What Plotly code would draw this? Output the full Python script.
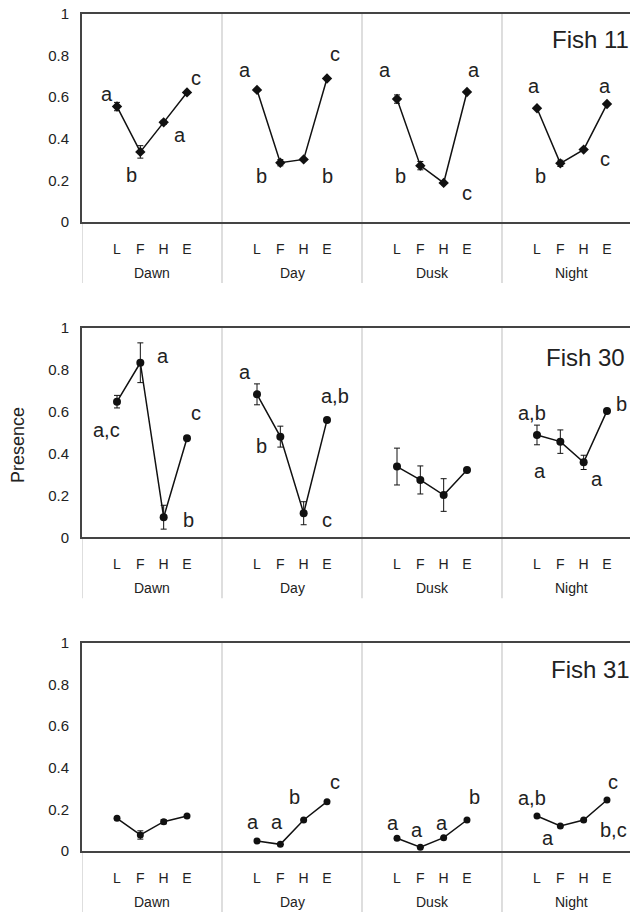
import plotly.graph_objects as go

# ---------------- data ----------------
periods = ["Dawn", "Day", "Dusk", "Night"]
zones = ["L", "F", "H", "E"]
fish_names = ["Fish 11", "Fish 30", "Fish 31"]

# presence values per fish, per period (L, F, H, E)
fish11_vals = [[0.555, 0.337, 0.479, 0.623],
               [0.635, 0.285, 0.301, 0.690],
               [0.591, 0.271, 0.188, 0.625],
               [0.547, 0.282, 0.348, 0.567]]
fish11_err = [[0.02, 0.03, 0.01, 0.0],
              [0.0, 0.015, 0.0, 0.0],
              [0.02, 0.02, 0.0, 0.0],
              [0.0, 0.015, 0.0, 0.0]]

fish30_vals = [[0.648, 0.834, 0.096, 0.473],
               [0.683, 0.481, 0.115, 0.560],
               [0.338, 0.274, 0.202, 0.322],
               [0.489, 0.457, 0.358, 0.604]]
fish30_err = [[0.03, 0.095, 0.057, 0.0],
              [0.05, 0.05, 0.055, 0.0],
              [0.088, 0.067, 0.078, 0.0],
              [0.047, 0.056, 0.034, 0.0]]

fish31_vals = [[0.157, 0.077, 0.141, 0.168],
               [0.048, 0.032, 0.149, 0.237],
               [0.061, 0.018, 0.064, 0.149],
               [0.168, 0.120, 0.149, 0.245]]
fish31_err = [[0.0, 0.02, 0.01, 0.0],
              [0.0, 0.0, 0.0, 0.0],
              [0.0, 0.0, 0.0, 0.0],
              [0.0, 0.0, 0.0, 0.0]]

# significance letters: (x position in category units, y value, text)
fish11_letters = [(1.07, 0.615, "a"), (2.1, 0.226, "b"), (4.2, 0.418, "a"), (4.89, 0.69, "c"),
                  (6.99, 0.73, "a"), (7.7, 0.22, "b"), (10.5, 0.22, "b"), (10.84, 0.81, "c"),
                  (12.99, 0.73, "a"), (13.66, 0.22, "b"), (16.49, 0.141, "c"), (16.81, 0.73, "a"),
                  (19.39, 0.654, "a"), (19.63, 0.22, "b"), (22.42, 0.301, "c"), (22.42, 0.654, "a")]
fish30_letters = [(1.03, 0.513, "a,c"), (3.49, 0.866, "a"), (4.89, 0.592, "c"), (4.56, 0.083, "b"),
                  (6.99, 0.791, "a"), (7.7, 0.438, "b"), (10.84, 0.675, "a,b"), (10.51, 0.083, "c"),
                  (19.27, 0.596, "a,b"), (19.63, 0.318, "a"), (22.09, 0.279, "a"), (23.13, 0.637, "b")]
fish31_letters = [(7.34, 0.141, "a"), (8.37, 0.141, "a"), (9.09, 0.261, "b"), (10.84, 0.333, "c"),
                  (13.31, 0.136, "a"), (14.37, 0.101, "a"), (15.44, 0.136, "a"), (16.81, 0.258, "b"),
                  (19.27, 0.253, "a,b"), (19.99, 0.061, "a"), (22.77, 0.333, "c"), (22.77, 0.101, "b,c")]

fish_label_pos = [(20.05, 0.878), (19.8, 0.86), (20.0, 0.875)]
y_ticks = [0, 0.2, 0.4, 0.6, 0.8, 1]
y_ticktext = ["0", "0.2", "0.4", "0.6", "0.8", "1"]

# ---------------- layout constants ----------------
W, H = 630, 912
ML = 82
UNIT = 23.333  # px per category slot
panel_px = [(14, 222), (328, 537.3), (643, 851)]  # (top, bottom) pixel of each panel
FONT = "Liberation Sans, Arial, sans-serif"
TXT = "#222222"
FRAME = "#444444"
SEP = "#c8c8c8"

all_vals = [fish11_vals, fish30_vals, fish31_vals]
all_err = [fish11_err, fish30_err, fish31_err]
all_letters = [fish11_letters, fish30_letters, fish31_letters]
symbols = ["diamond", "circle", "circle"]
msizes = [8, 8, 7]

fig = go.Figure()
xmax = (W - ML) / UNIT

tickvals, ticktext = [], []
for g in range(4):
    for k in range(4):
        tickvals.append(6 * g + 1.5 + k)
        ticktext.append(zones[k])

annotations = []
shapes = []
for p in range(3):
    xa = "x" if p == 0 else f"x{p+1}"
    ya = "y" if p == 0 else f"y{p+1}"
    for g in range(4):
        xs = [6 * g + 1.5 + k for k in range(4)]
        fig.add_trace(go.Scatter(
            x=xs, y=all_vals[p][g], mode="lines+markers",
            line=dict(color="#111111", width=1.5),
            marker=dict(symbol=symbols[p], size=msizes[p], color="#111111"),
            error_y=dict(type="data", array=all_err[p][g], symmetric=True,
                         color="#111111", thickness=1, width=3),
            xaxis=xa, yaxis=ya, showlegend=False, cliponaxis=False))
    top, bot = panel_px[p]
    dom = [1 - bot / H, 1 - top / H]
    hpx = bot - top
    xkey = "xaxis" if p == 0 else f"xaxis{p+1}"
    ykey = "yaxis" if p == 0 else f"yaxis{p+1}"
    fig.update_layout(**{
        xkey: dict(domain=[0, 1], range=[0, xmax], anchor=ya, automargin=False,
                   tickvals=tickvals, ticktext=ticktext, ticklabeloverflow="allow",
                   ticks="outside", ticklen=13, tickcolor="rgba(0,0,0,0)",
                   showgrid=False, zeroline=False,
                   showline=True, mirror=True, linecolor=FRAME, linewidth=2,
                   tickfont=dict(family=FONT, size=14, color=TXT)),
        ykey: dict(domain=dom, range=[0, 1], anchor=xa, automargin=False,
                   tickvals=y_ticks, ticktext=y_ticktext, ticklabeloverflow="allow",
                   ticks="outside", ticklen=8, tickcolor="rgba(0,0,0,0)",
                   showgrid=False, zeroline=False,
                   showline=True, mirror=False, linecolor=FRAME, linewidth=2,
                   tickfont=dict(family=FONT, size=15, color=TXT)),
    })
    below = 61 / hpx
    # separators between periods
    for g in range(1, 4):
        shapes.append(dict(type="line", xref=xa, yref=f"{ya} domain",
                           x0=6 * g, x1=6 * g, y0=-below, y1=1,
                           line=dict(color=SEP, width=1.2), layer="below"))
    shapes.append(dict(type="line", xref=xa, yref=f"{ya} domain",
                       x0=0, x1=0, y0=-below, y1=0,
                       line=dict(color=SEP, width=1.2), layer="below"))
    # period labels
    for g in range(4):
        annotations.append(dict(x=6 * g + 3, y=-51 / hpx, xref=xa, yref=f"{ya} domain",
                                text=periods[g], showarrow=False,
                                xanchor="center", yanchor="middle",
                                font=dict(family=FONT, size=14, color=TXT)))
    # letters
    for (lx, ly, lt) in all_letters[p]:
        annotations.append(dict(x=lx, y=ly, xref=xa, yref=ya, text=lt, showarrow=False,
                                xanchor="center", yanchor="middle",
                                font=dict(family=FONT, size=20, color=TXT)))
    # fish label
    fx, fy = fish_label_pos[p]
    annotations.append(dict(x=fx, y=fy, xref=xa, yref=ya, text=fish_names[p], showarrow=False,
                            xanchor="left", yanchor="middle",
                            font=dict(family=FONT, size=24, color=TXT)))

annotations.append(dict(x=(18 - ML) / (W - ML), y=1 - 445 / H,
                        xref="paper", yref="paper",
                        text="Presence", textangle=-90, showarrow=False,
                        xanchor="center", yanchor="middle",
                        font=dict(family=FONT, size=18, color=TXT)))

fig.update_layout(width=W, height=H, margin=dict(l=ML, r=0, t=0, b=0),
                  paper_bgcolor="white", plot_bgcolor="white",
                  annotations=annotations, shapes=shapes)

# remove the default page margin so the figure fills the window exactly
fig.write_html("out.html", config={"displayModeBar": False},
               post_script="document.body.style.margin='0px';"
                           "document.documentElement.style.overflow='hidden';")
